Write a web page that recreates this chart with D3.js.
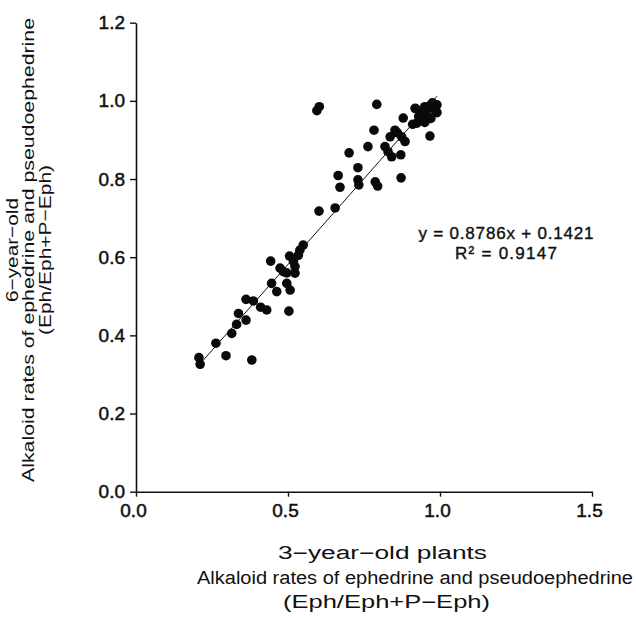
<!DOCTYPE html>
<html>
<head>
<meta charset="utf-8">
<script src="https://cdn.jsdelivr.net/npm/d3@7"></script>
<style>
  body { margin: 0; background: #fff; }
  svg text { font-family: "Liberation Sans", Arial, sans-serif; fill: #111; }
</style>
</head>
<body>
<div id="chart"></div>
<script>
// 3-year-old vs 6-year-old plants, alkaloid rate (Eph/Eph+P-Eph)
var xVals = [0.595, 0.603, 0.792, 0.967, 0.783, 0.763, 0.701, 0.730, 0.665, 0.671,
             0.730, 0.733, 0.787, 0.795, 0.872, 0.602, 0.655, 0.819, 0.829, 0.841,
             0.871, 0.836, 0.852, 0.860, 0.879, 0.885, 0.874, 0.924, 0.918, 0.956,
             0.967, 0.990, 0.980, 0.970, 0.960, 0.950, 0.985, 0.940, 0.930, 0.960,
             0.970, 0.920, 0.910, 0.950, 0.990, 0.975,
             0.550, 0.539, 0.534, 0.505, 0.518, 0.523, 0.523, 0.443, 0.474, 0.485,
             0.496, 0.446, 0.463, 0.496, 0.507, 0.362, 0.386, 0.410, 0.430, 0.503,
             0.337, 0.362, 0.331, 0.315, 0.263, 0.207, 0.211, 0.296, 0.381];
var yVals = [0.975, 0.985, 0.991, 0.910, 0.925, 0.883, 0.867, 0.829, 0.809, 0.779,
             0.798, 0.785, 0.793, 0.782, 0.803, 0.718, 0.726, 0.883, 0.870, 0.857,
             0.862, 0.908, 0.925, 0.918, 0.956, 0.896, 0.908, 0.943, 0.981, 0.960,
             0.955, 0.990, 0.985, 0.990, 0.980, 0.985, 0.975, 0.970, 0.960, 0.960,
             0.955, 0.980, 0.940, 0.945, 0.970, 0.995,
             0.631, 0.618, 0.605, 0.603, 0.589, 0.576, 0.559, 0.590, 0.572, 0.563,
             0.560, 0.533, 0.512, 0.533, 0.516, 0.492, 0.488, 0.472, 0.465, 0.462,
             0.456, 0.439, 0.428, 0.405, 0.380, 0.343, 0.326, 0.348, 0.337];

var xTicks = [0, 0.5, 1.0, 1.5];
var yTicks = [0, 0.2, 0.4, 0.6, 0.8, 1.0, 1.2];

var slope = 0.8786, intercept = 0.1421;
var eqLabel = "y = 0.8786x + 0.1421";
var r2Label = "R² = 0.9147";

var yTitle = ["6−year−old", "Alkaloid rates of ephedrine and pseudoephedrine", "(Eph/Eph+P−Eph)"];
var xTitle = ["3−year−old plants", "Alkaloid rates of ephedrine and pseudoephedrine", "(Eph/Eph+P−Eph)"];

var W = 636, H = 618;
var margin = {top: 22.7, right: 44, bottom: 126.3, left: 136};

var svg = d3.select("#chart").append("svg")
    .attr("width", W)
    .attr("height", H);

var x = d3.scaleLinear().domain([0, 1.5]).range([margin.left, W - margin.right]);
var y = d3.scaleLinear().domain([0, 1.2]).range([H - margin.bottom, margin.top]);

// axes
var xAxis = svg.append("g")
    .attr("transform", "translate(0," + y(0) + ")")
    .call(d3.axisBottom(x).tickValues(xTicks).tickSize(5).tickSizeOuter(0).tickFormat(d3.format(".1f")));
xAxis.selectAll("text")
    .attr("dx", -3)
    .attr("y", 12)
    .attr("dy", "0.71em");

var yAxis = svg.append("g")
    .attr("transform", "translate(" + x(0) + ",0)")
    .call(d3.axisLeft(y).tickValues(yTicks).tickSize(6).tickSizeOuter(0).tickFormat(d3.format(".1f")));
yAxis.selectAll("text")
    .attr("x", -11);

svg.selectAll(".tick text")
    .style("font-size", "19px")
    .attr("stroke", "#111")
    .attr("stroke-width", 0.5);
svg.selectAll(".domain").attr("stroke", "#111").attr("stroke-width", 1.6);
svg.selectAll(".tick line").attr("stroke", "#111").attr("stroke-width", 1.4);

// trend line
var xr = d3.extent(xVals);
svg.append("line")
    .attr("x1", x(xr[0])).attr("y1", y(slope * xr[0] + intercept))
    .attr("x2", x(xr[1])).attr("y2", y(slope * xr[1] + intercept))
    .attr("stroke", "#111")
    .attr("stroke-width", 1);

// points
svg.append("g").selectAll("circle")
    .data(d3.range(xVals.length))
    .enter().append("circle")
    .attr("cx", function(i) { return x(xVals[i]); })
    .attr("cy", function(i) { return y(yVals[i]); })
    .attr("r", 4.8)
    .attr("fill", "#0a0a0a");

// equation
svg.append("text")
    .attr("x", 506).attr("y", 239)
    .attr("text-anchor", "middle")
    .attr("textLength", 175)
    .attr("stroke", "#111").attr("stroke-width", 0.4)
    .style("font-size", "17px")
    .text(eqLabel);
svg.append("text")
    .attr("x", 506).attr("y", 259)
    .attr("text-anchor", "middle")
    .attr("textLength", 102)
    .attr("stroke", "#111").attr("stroke-width", 0.4)
    .style("font-size", "17px")
    .text(r2Label);

// y title (rotated)
var yBase = [18, 34, 51];
var yLen = [104, 464, 170];
yTitle.forEach(function(t, i) {
  svg.append("text")
    .attr("transform", "translate(" + yBase[i] + ",250) rotate(-90)")
    .attr("text-anchor", "middle")
    .attr("textLength", yLen[i])
    .attr("lengthAdjust", "spacingAndGlyphs")
    .style("font-size", "17px")
    .text(t);
});

// x title
var xLeft = [278, 197, 283];
var xLen = [209, 436, 207];
var xBase = [559, 584, 608];
xTitle.forEach(function(t, i) {
  svg.append("text")
    .attr("x", xLeft[i])
    .attr("y", xBase[i])
    .attr("textLength", xLen[i])
    .attr("lengthAdjust", "spacingAndGlyphs")
    .style("font-size", "18px")
    .text(t);
});
</script>
</body>
</html>
